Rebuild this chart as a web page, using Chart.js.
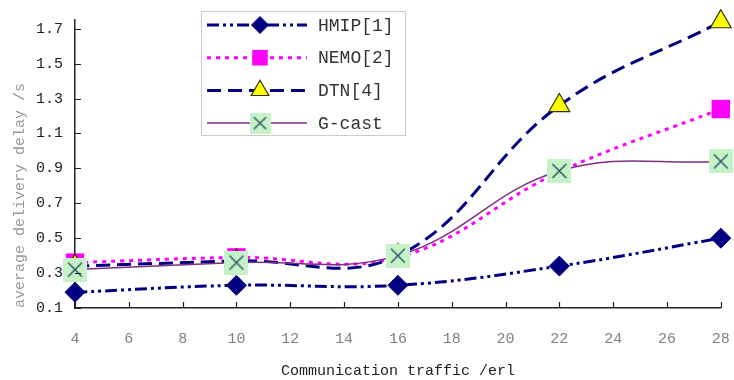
<!DOCTYPE html>
<html>
<head>
<meta charset="utf-8">
<script src="https://cdn.jsdelivr.net/npm/chart.js@4/dist/chart.umd.min.js"></script>
<style>
  html, body { margin: 0; padding: 0; background: #fff; }
  #wrap { width: 734px; height: 380px; }
</style>
</head>
<body>
<div id="wrap"><canvas id="chart"></canvas></div>
<script>
// data
const traffic = [4, 10, 16, 22, 28];
const hmip  = [0.19, 0.23, 0.23, 0.34, 0.50];
const nemo  = [0.36, 0.39, 0.39, 0.88, 1.24];
const dtn   = [0.34, 0.37, 0.40, 1.26, 1.74];
const gcast = [0.32, 0.36, 0.40, 0.885, 0.94];
const seriesNames = ['HMIP[1]', 'NEMO[2]', 'DTN[4]', 'G-cast'];
const xTicks = [4, 6, 8, 10, 12, 14, 16, 18, 20, 22, 24, 26, 28];
const yTicks = [0.1, 0.3, 0.5, 0.7, 0.9, 1.1, 1.3, 1.5, 1.7];

const MONO = '"Liberation Mono", "DejaVu Sans Mono", monospace';
const NAVY = '#000080';

// green box with a cross for G-cast
function crossBox(size) {
    const c = document.createElement('canvas');
    c.width = size; c.height = size;
    const g = c.getContext('2d');
    const m = size * 0.21;
    g.fillStyle = '#c6f2c8';
    g.fillRect(0, 0, size, size);
    g.strokeStyle = '#2e5866';
    g.lineWidth = 1.5;
    g.beginPath();
    g.moveTo(m, m); g.lineTo(size - m, size - m);
    g.moveTo(size - m, m); g.lineTo(m, size - m);
    g.stroke();
    return c;
}

const pts = arr => arr.map((v, i) => ({ x: traffic[i], y: v }));

const datasets = [
    {
        label: seriesNames[0], data: pts(hmip), order: 3,
        borderColor: NAVY, borderWidth: 3, borderDash: [12, 4, 3, 4, 3, 4],
        pointStyle: 'rectRot', pointRadius: 10, pointBackgroundColor: NAVY,
        pointBorderColor: NAVY, pointBorderWidth: 1
    },
    {
        label: seriesNames[1], data: pts(nemo), order: 2,
        borderColor: '#ff00ff', borderWidth: 3, borderDash: [4, 5],
        pointStyle: 'rect', pointRadius: 13, pointBackgroundColor: '#ff00ff',
        pointBorderColor: '#ff00ff', pointBorderWidth: 0
    },
    {
        label: seriesNames[2], data: pts(dtn), order: 1,
        borderColor: NAVY, borderWidth: 3, borderDash: [14, 7],
        pointStyle: 'triangle', pointRadius: 12, pointBackgroundColor: '#ffff00',
        pointBorderColor: '#333300', pointBorderWidth: 1.2
    },
    {
        label: seriesNames[3], data: pts(gcast), order: 0,
        borderColor: '#7e2f80', borderWidth: 1.5,
        pointStyle: crossBox(24), pointRadius: 12, pointBackgroundColor: '#c6f2c8',
        pointBorderColor: '#2e5866', pointBorderWidth: 0
    }
];
datasets.forEach(d => { d.tension = 0.4; d.fill = false; d.clip = false; d.pointHoverRadius = d.pointRadius; });
const legendCross = crossBox(21);

// ticks pointing into the plot
const innerTicks = {
    id: 'innerTicks',
    afterDraw(chart) {
        const { ctx, chartArea: a, scales: { x, y } } = chart;
        ctx.save();
        ctx.strokeStyle = '#222';
        ctx.lineWidth = 1.2;
        ctx.beginPath();
        yTicks.forEach(v => {
            const py = Math.round(y.getPixelForValue(v)) + 0.5;
            ctx.moveTo(a.left, py); ctx.lineTo(a.left + 6, py);
        });
        xTicks.forEach(v => {
            const px = Math.round(x.getPixelForValue(v)) + 0.5;
            ctx.moveTo(px, a.bottom); ctx.lineTo(px, a.bottom - 6);
        });
        ctx.stroke();
        ctx.restore();
    }
};

// boxed legend with marker in the middle of each line sample
const boxLegend = {
    id: 'boxLegend',
    afterDraw(chart) {
        const ctx = chart.ctx;
        ctx.save();
        ctx.fillStyle = '#fff';
        ctx.fillRect(201, 11, 204, 124);
        ctx.strokeStyle = '#cccccc';
        ctx.lineWidth = 1;
        ctx.strokeRect(201.5, 11.5, 204, 124);
        chart.data.datasets.forEach((ds, i) => {
            const y = 25 + i * 32.7;
            ctx.save();
            ctx.strokeStyle = ds.borderColor;
            ctx.lineWidth = ds.borderWidth;
            ctx.setLineDash(ds.borderDash || []);
            ctx.beginPath();
            ctx.moveTo(207, y); ctx.lineTo(307, y);
            ctx.stroke();
            ctx.restore();
            ctx.save();
            ctx.fillStyle = ds.pointBackgroundColor;
            ctx.strokeStyle = ds.pointBorderColor;
            ctx.lineWidth = ds.pointBorderWidth;
            const style = i === 3 ? legendCross : ds.pointStyle;
            const r = i === 1 ? 11 : ds.pointRadius * 0.85;
            Chart.helpers.drawPoint(ctx, {
                pointStyle: style, radius: r,
                borderWidth: ds.pointBorderWidth, rotation: 0
            }, 260, y);
            ctx.restore();
            ctx.fillStyle = '#333';
            ctx.font = '18px ' + MONO;
            ctx.textBaseline = 'middle';
            ctx.fillText(ds.label, 318, y + 1);
        });
        ctx.restore();
    }
};

new Chart(document.getElementById('chart'), {
    type: 'line',
    data: { datasets: datasets },
    options: {
        responsive: true,
        maintainAspectRatio: false,
        animation: false,
        layout: { padding: { top: 20, right: 12, left: 0, bottom: 0 } },
        plugins: { legend: { display: false }, tooltip: { enabled: false } },
        scales: {
            x: {
                type: 'linear', min: 4, max: 28,
                grid: { display: false, drawTicks: false },
                border: { color: '#222', width: 1.5 },
                afterBuildTicks: s => { s.ticks = xTicks.map(v => ({ value: v })); },
                afterFit: s => { s.height = 72; s.paddingLeft = 0; s.paddingRight = 0; },
                ticks: { color: '#808080', padding: 22, maxRotation: 0, font: { family: MONO, size: 15 } },
                title: {
                    display: true, text: 'Communication traffic /erl', color: '#222',
                    font: { family: MONO, size: 15 }, padding: { top: 0, bottom: 0 }
                }
            },
            y: {
                type: 'linear', min: 0.1, max: 1.75,
                grid: { display: false, drawTicks: false },
                border: { color: '#222', width: 1.5 },
                afterBuildTicks: s => { s.ticks = yTicks.map(v => ({ value: v })); },
                afterFit: s => { s.width = 75; s.paddingTop = 0; s.paddingBottom = 0; },
                ticks: {
                    color: '#222', padding: 12, font: { family: MONO, size: 15 },
                    callback: v => v.toFixed(1)
                },
                title: {
                    display: true, text: 'average delivery delay /s', color: '#999',
                    align: 'start',
                    font: { family: MONO, size: 15 }, padding: { top: 11, bottom: 0 }
                }
            }
        }
    },
    plugins: [innerTicks, boxLegend]
});
</script>
</body>
</html>
